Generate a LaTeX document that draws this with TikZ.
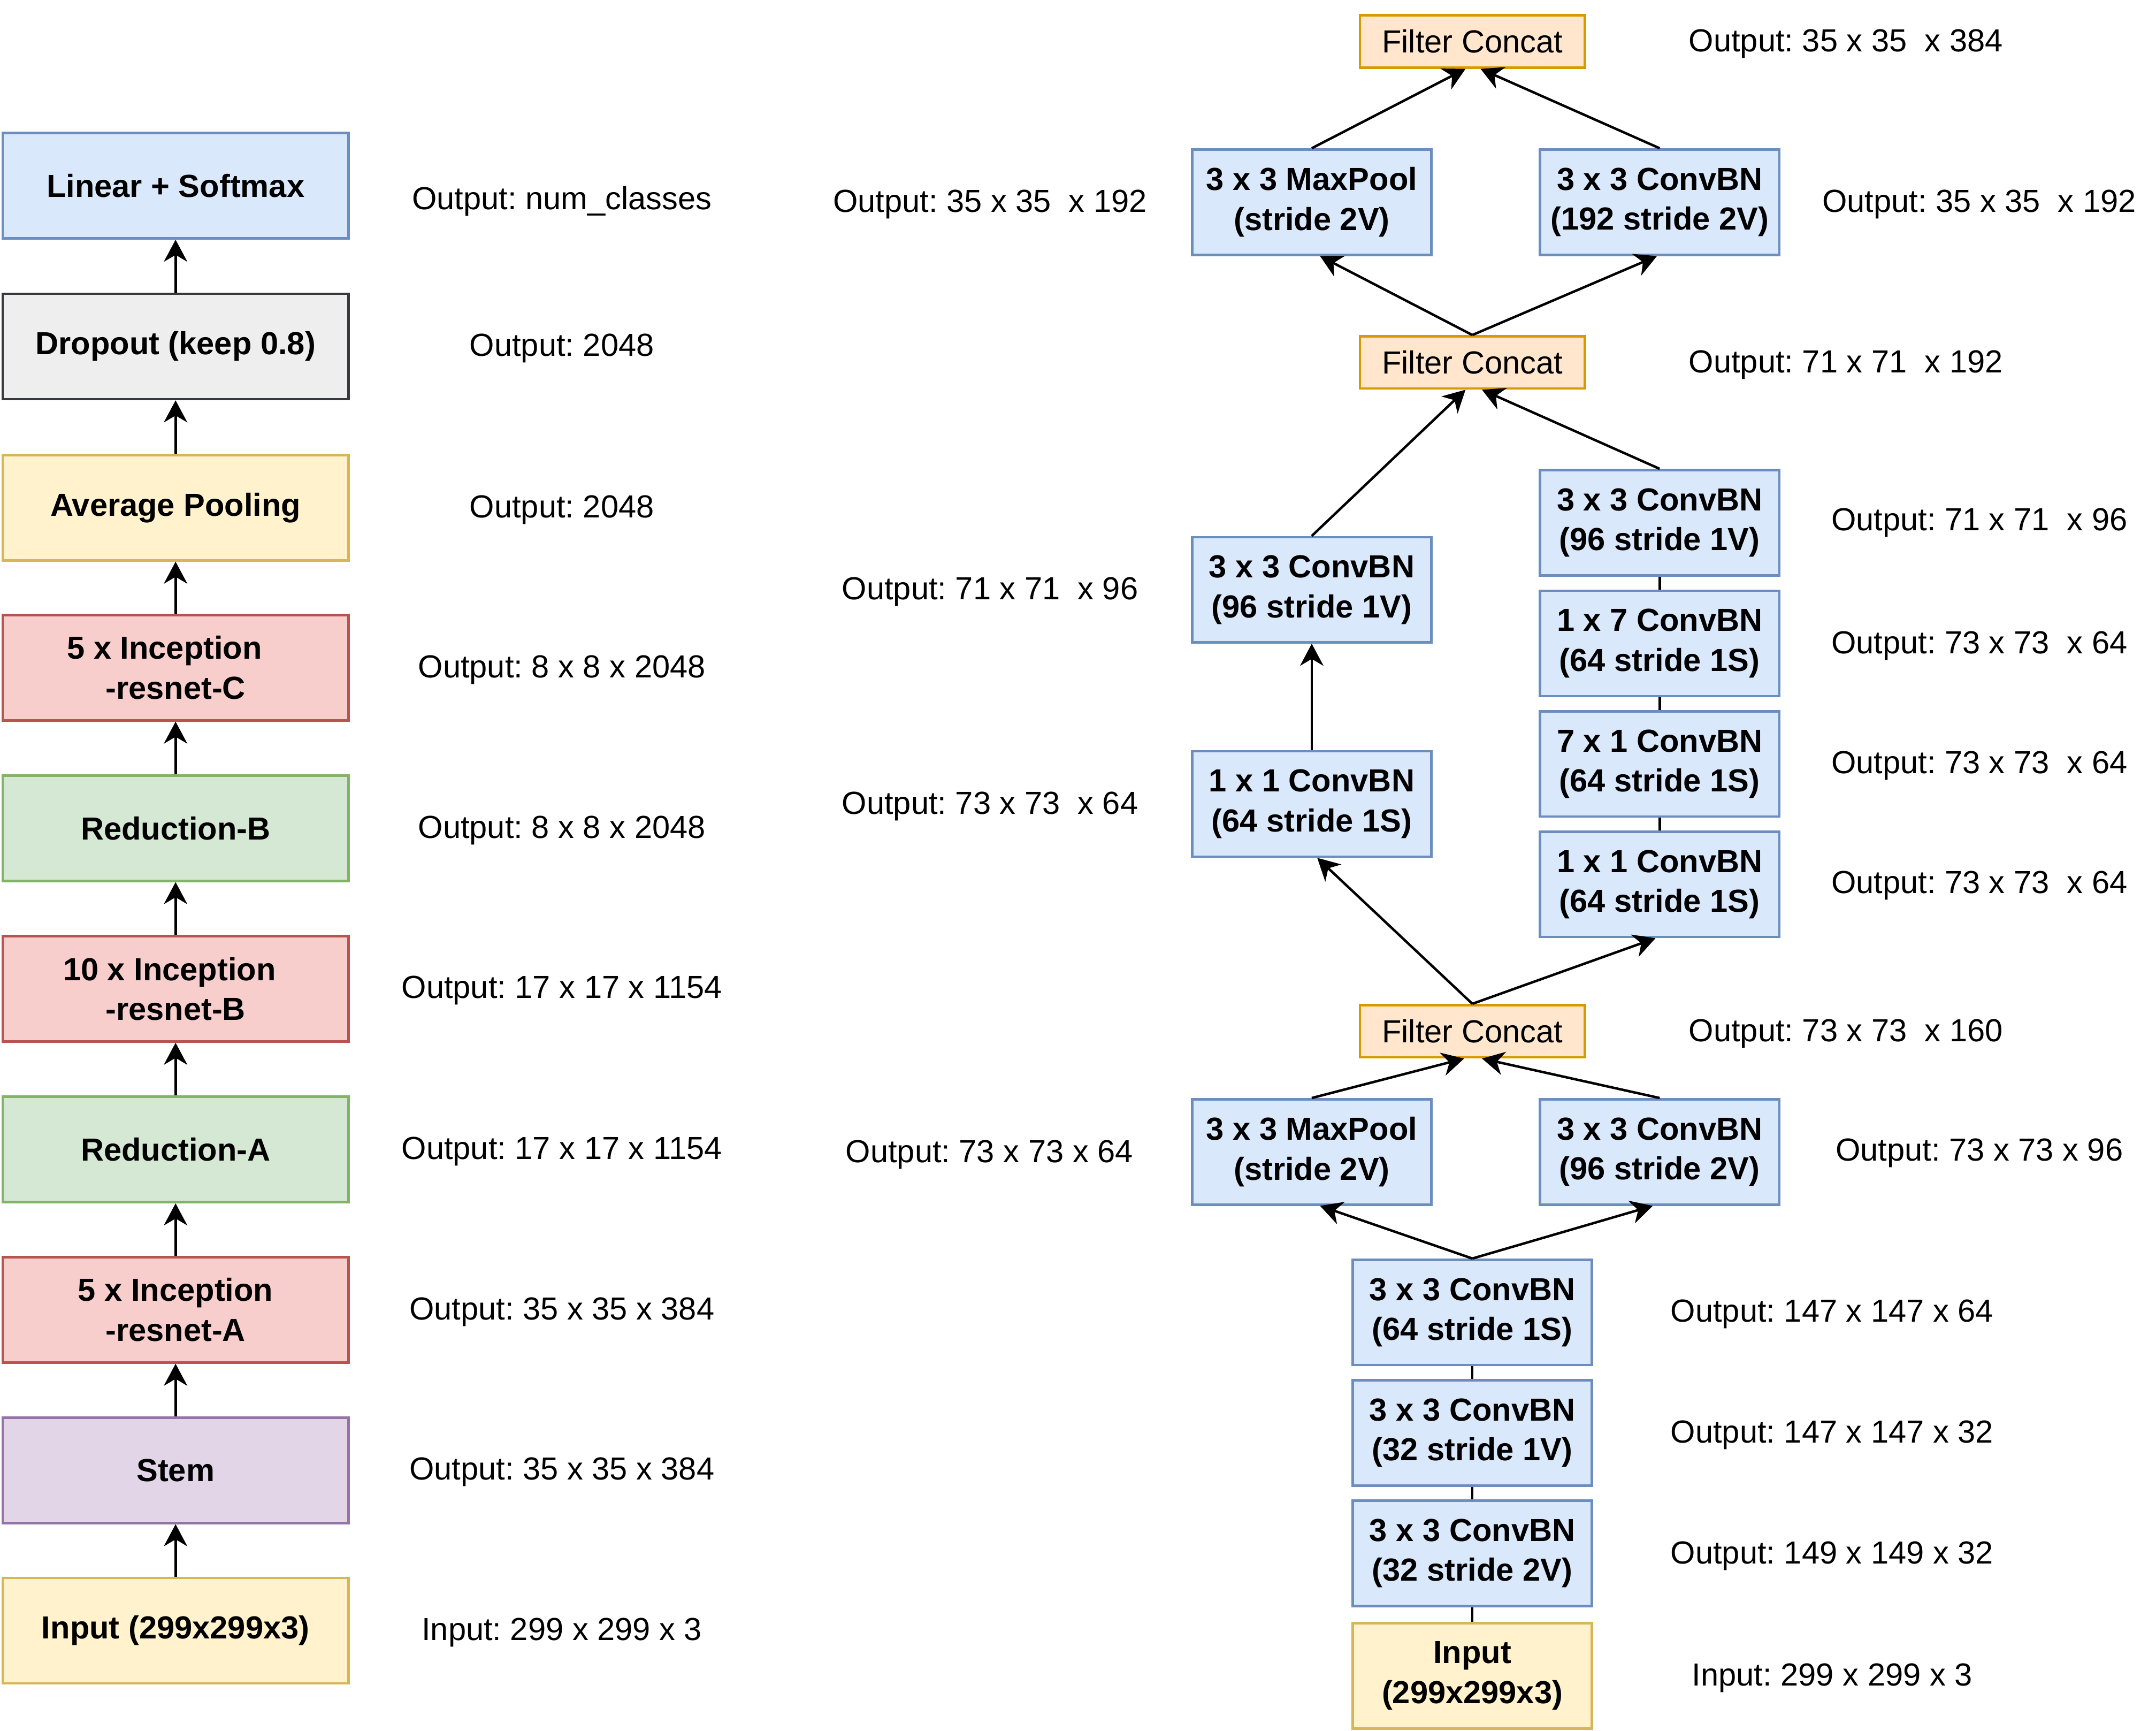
\documentclass[tikz,border=0pt]{standalone}
\usepackage{fontspec}
\setmainfont{Liberation Sans}
\usetikzlibrary{arrows.meta,calc}
\definecolor{bluF}{HTML}{DAE8FC}\definecolor{bluD}{HTML}{6C8EBF}
\definecolor{gryF}{HTML}{EEEEEE}\definecolor{gryD}{HTML}{36393D}
\definecolor{ylwF}{HTML}{FFF2CC}\definecolor{ylwD}{HTML}{D6B656}
\definecolor{redF}{HTML}{F8CECC}\definecolor{redD}{HTML}{B85450}
\definecolor{grnF}{HTML}{D5E8D4}\definecolor{grnD}{HTML}{82B366}
\definecolor{purF}{HTML}{E1D5E7}\definecolor{purD}{HTML}{9673A6}
\definecolor{orgF}{HTML}{FFE6CC}\definecolor{orgD}{HTML}{D79B00}
\frenchspacing
\begin{document}
\begin{tikzpicture}[x=0.5pt,y=-0.5pt,
  box/.style={draw, line width=0.9pt, inner sep=0pt, align=center,
    font=\fontsize{11.6}{14.5}\selectfont\bfseries, minimum height=38.3pt},
  lbox/.style={box, minimum width=125.8pt},
  sbox/.style={box, minimum width=87pt},
  bl/.style={fill=bluF, draw=bluD},
  yl/.style={fill=ylwF, draw=ylwD},
  fcbox/.style={draw=orgD, fill=orgF, line width=0.9pt, minimum width=81.8pt,
    minimum height=19pt, inner sep=0pt, font=\fontsize{11.6}{14.5}\selectfont},
  lab/.style={font=\fontsize{11.6}{14.5}\selectfont, inner sep=0pt, yshift=-1.2pt},
  arr/.style={line width=0.9pt, -{Stealth[length=8pt,width=8.5pt,inset=2.5pt]}},
  ln/.style={line width=0.9pt}]
\fill[white] (0,0) rectangle (1568,1258.6);
\useasboundingbox (0,0) rectangle (1568,1258.6);

% left column
\node[lbox, fill=bluF, draw=bluD] (lin) at (127.7,135.1) {Linear + Softmax};
\node[lbox, fill=gryF, draw=gryD] (drop) at (127.7,251.9) {Dropout (keep 0.8)};
\node[lbox, yl] (avg) at (127.7,369.2) {Average Pooling};
\node[lbox, fill=redF, draw=redD] (irc) at (127.7,485.5) {5 x Inception\kern8pt\\-resnet-C};
\node[lbox, fill=grnF, draw=grnD] (rdb) at (127.7,602.2) {Reduction-B};
\node[lbox, fill=redF, draw=redD] (irb) at (127.7,719) {10 x Inception\kern4.4pt\\-resnet-B};
\node[lbox, fill=grnF, draw=grnD] (rda) at (127.7,835.8) {Reduction-A};
\node[lbox, fill=redF, draw=redD] (ira) at (127.7,952.4) {5 x Inception\\-resnet-A};
\node[lbox, fill=purF, draw=purD] (stem) at (127.7,1069.1) {Stem};
\node[lbox, yl] (inl) at (127.7,1185.7) {Input (299x299x3)};

\draw[arr] (inl) -- (stem);
\draw[arr] (stem) -- (ira);
\draw[arr] (ira) -- (rda);
\draw[arr] (rda) -- (irb);
\draw[arr] (irb) -- (rdb);
\draw[arr] (rdb) -- (irc);
\draw[arr] (irc) -- (avg);
\draw[arr] (avg) -- (drop);
\draw[arr] (drop) -- (lin);

\node[lab] (l1) at (408.6,143.9) {Output: num\_classes};
\node[lab] (l2) at (408.6,251) {Output: 2048};
\node[lab] (l3) at (408.6,368.3) {Output: 2048};
\node[lab] (l4) at (408.6,484.8) {Output: 8 x 8 x 2048};
\node[lab] (l5) at (408.6,601.2) {Output: 8 x 8 x 2048};
\node[lab] (l6) at (408.6,717.6) {Output: 17 x 17 x 1154};
\node[lab] (l7) at (408.6,834.8) {Output: 17 x 17 x 1154};
\node[lab] (l8) at (408.6,951.6) {Output: 35 x 35 x 384};
\node[lab] (l9) at (408.6,1068) {Output: 35 x 35 x 384};
\node[lab] (l10) at (408.6,1184.8) {Input: 299 x 299 x 3};

% right part
\node[fcbox] (fc3) at (1070.8,30.2) {Filter Concat};
\node[sbox, bl] (mp2) at (954,147) {3 x 3 MaxPool\\(stride 2V)};
\node[sbox, bl] (c192) at (1207,147) {3 x 3 ConvBN\\(192 stride 2V)};
\node[fcbox] (fc2) at (1070.8,263.5) {Filter Concat};
\node[sbox, bl] (c96r) at (1207,380.1) {3 x 3 ConvBN\\(96 stride 1V)};
\node[sbox, bl] (c96l) at (954,428.9) {3 x 3 ConvBN\\(96 stride 1V)};
\node[sbox, bl] (c17) at (1207,467.9) {1 x 7 ConvBN\\(64 stride 1S)};
\node[sbox, bl] (c71) at (1207,555.5) {7 x 1 ConvBN\\(64 stride 1S)};
\node[sbox, bl] (c11r) at (1207,643) {1 x 1 ConvBN\\(64 stride 1S)};
\node[sbox, bl] (c11l) at (954,584.6) {1 x 1 ConvBN\\(64 stride 1S)};
\node[fcbox] (fc1) at (1070.8,749.8) {Filter Concat};
\node[sbox, bl] (mp1) at (954,837.6) {3 x 3 MaxPool\\(stride 2V)};
\node[sbox, bl] (c96b) at (1207,837.6) {3 x 3 ConvBN\\(96 stride 2V)};
\node[sbox, bl] (c64) at (1070.8,954.3) {3 x 3 ConvBN\\(64 stride 1S)};
\node[sbox, bl] (c32a) at (1070.8,1041.9) {3 x 3 ConvBN\\(32 stride 1V)};
\node[sbox, bl] (c32b) at (1070.8,1129.5) {3 x 3 ConvBN\\(32 stride 2V)};
\node[sbox, yl] (inr) at (1070.8,1218.5) {Input\\(299x299x3)};

\draw[ln] (inr.north) -- (c32b.south);
\draw[ln] (c32b.north) -- (c32a.south);
\draw[ln] (c32a.north) -- (c64.south);
\draw[arr] (c64.north) -- ($(mp1.south)+(6,0)$);
\draw[arr] (c64.north) -- ($(c96b.south)+(-5,0)$);
\draw[arr] (mp1.north) -- ($(fc1.south)+(-6,0)$);
\draw[arr] (c96b.north) -- ($(fc1.south)+(7,0)$);
\draw[arr] (fc1.north) -- ($(c11l.south)+(4,0)$);
\draw[arr] (fc1.north) -- ($(c11r.south)+(-3,0)$);
\draw[arr] (c11l) -- (c96l);
\draw[ln] (c11r.north) -- (c71.south);
\draw[ln] (c71.north) -- (c17.south);
\draw[ln] (c17.north) -- (c96r.south);
\draw[arr] (c96l.north) -- ($(fc2.south)+(-5,0)$);
\draw[arr] (c96r.north) -- ($(fc2.south)+(7,0)$);
\draw[arr] (fc2.north) -- ($(mp2.south)+(6,0)$);
\draw[arr] (fc2.north) -- ($(c192.south)+(-2,0)$);
\draw[arr] (mp2.north) -- ($(fc3.south)+(-5,0)$);
\draw[arr] (c192.north) -- ($(fc3.south)+(6,0)$);

\node[lab] (r1) at (1342.4,29.5) {Output: 35 x 35\ \ x 384};
\node[lab] (r2) at (720,146) {Output: 35 x 35\ \ x 192};
\node[lab] (r3) at (1439.4,146) {Output: 35 x 35\ \ x 192};
\node[lab] (r4) at (1342.4,263) {Output: 71 x 71\ \ x 192};
\node[lab] (r5) at (1439.5,377.5) {Output: 71 x 71\ \ x 96};
\node[lab] (r6) at (720,428) {Output: 71 x 71\ \ x 96};
\node[lab] (r7) at (1439.5,467) {Output: 73 x 73\ \ x 64};
\node[lab] (r8) at (1439.5,554.4) {Output: 73 x 73\ \ x 64};
\node[lab] (r9) at (1439.5,641.6) {Output: 73 x 73\ \ x 64};
\node[lab] (r10) at (720,584) {Output: 73 x 73\ \ x 64};
\node[lab] (r11) at (1342.4,749.4) {Output: 73 x 73\ \ x 160};
\node[lab] (r12) at (719.5,837) {Output: 73 x 73 x 64};
\node[lab] (r13) at (1439.5,836) {Output: 73 x 73 x 96};
\node[lab] (r14) at (1332.4,953) {Output: 147 x 147 x 64};
\node[lab] (r15) at (1332.4,1041) {Output: 147 x 147 x 32};
\node[lab] (r16) at (1332.4,1128.8) {Output: 149 x 149 x 32};
\node[lab] (r17) at (1332.5,1217.7) {Input: 299 x 299 x 3};
\end{tikzpicture}
\end{document}
